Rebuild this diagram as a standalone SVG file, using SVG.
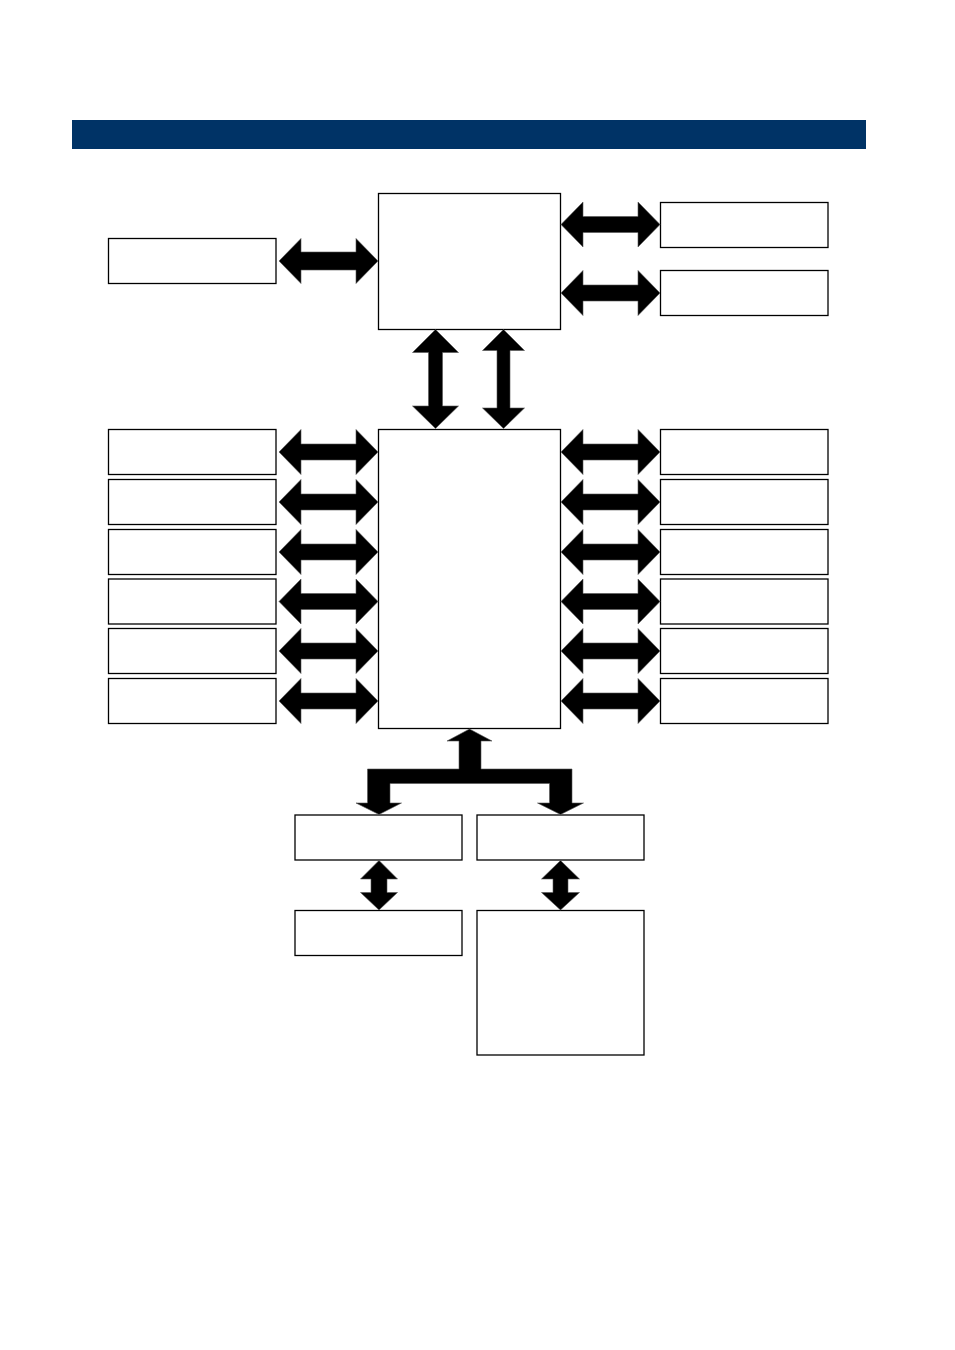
<svg xmlns="http://www.w3.org/2000/svg" xmlns:xlink="http://www.w3.org/1999/xlink" width="955" height="1350" viewBox="0 0 955 1350">
<style>
.box{fill:#fff;stroke:#000;stroke-width:1.3}
.arr{fill:#000;stroke:#555;stroke-width:0.6;stroke-linejoin:miter}
</style>
<defs>
<path id="harrow" d="M0,0 L22,-22.5 L22,-8 L77,-8 L77,-22.5 L99,0 L77,22.5 L77,8 L22,8 L22,22.5 Z"/>
</defs>
<rect width="955" height="1350" fill="#fff"/>
<rect id="banner" x="72" y="120" width="794" height="29" fill="#003366"/>
<g id="top-box"><rect class="box" x="378.5" y="193.5" width="182" height="136"/></g>
<g id="top-left-box"><rect class="box" x="108.5" y="238.5" width="167.5" height="45"/></g>
<g id="top-right-box-1"><rect class="box" x="660.5" y="202.5" width="167.5" height="45"/></g>
<g id="top-right-box-2"><rect class="box" x="660.5" y="270.5" width="167.5" height="45"/></g>
<g id="center-box"><rect class="box" x="378.5" y="429.5" width="182" height="299"/></g>
<g id="left-box-1"><rect class="box" x="108.5" y="429.5" width="167.5" height="45"/></g>
<g id="left-box-2"><rect class="box" x="108.5" y="479.5" width="167.5" height="45"/></g>
<g id="left-box-3"><rect class="box" x="108.5" y="529.5" width="167.5" height="45"/></g>
<g id="left-box-4"><rect class="box" x="108.5" y="579" width="167.5" height="45"/></g>
<g id="left-box-5"><rect class="box" x="108.5" y="628.5" width="167.5" height="45"/></g>
<g id="left-box-6"><rect class="box" x="108.5" y="678.5" width="167.5" height="45"/></g>
<g id="right-box-1"><rect class="box" x="660.5" y="429.5" width="167.5" height="45"/></g>
<g id="right-box-2"><rect class="box" x="660.5" y="479.5" width="167.5" height="45"/></g>
<g id="right-box-3"><rect class="box" x="660.5" y="529.5" width="167.5" height="45"/></g>
<g id="right-box-4"><rect class="box" x="660.5" y="579" width="167.5" height="45"/></g>
<g id="right-box-5"><rect class="box" x="660.5" y="628.5" width="167.5" height="45"/></g>
<g id="right-box-6"><rect class="box" x="660.5" y="678.5" width="167.5" height="45"/></g>
<g id="bottom-box-left"><rect class="box" x="295" y="815" width="167" height="45"/></g>
<g id="bottom-box-right"><rect class="box" x="477" y="815" width="167" height="45"/></g>
<g id="lower-box-left"><rect class="box" x="295" y="910.5" width="167" height="45"/></g>
<g id="lower-box-right"><rect class="box" x="477" y="910.5" width="167" height="144.5"/></g>
<g id="connectors">
<path class="arr" d="M279,261 L301,238.5 L301,252 L356,252 L356,238.5 L378,261 L356,283.5 L356,270 L301,270 L301,283.5 Z"/>
<use class="arr" xlink:href="#harrow" x="561" y="224.5"/>
<use class="arr" xlink:href="#harrow" x="561" y="293"/>
<path class="arr" d="M435.5,329.5 L458.5,352.5 L442.5,352.5 L442.5,406 L458.5,406 L435.5,428.5 L412.5,406 L428.5,406 L428.5,352.5 L412.5,352.5 Z"/>
<path class="arr" d="M503.5,329.5 L524.5,350.5 L510,350.5 L510,408 L524.5,408 L503.5,428.5 L482.5,408 L497,408 L497,350.5 L482.5,350.5 Z"/>
<use class="arr" xlink:href="#harrow" x="279" y="452"/>
<use class="arr" xlink:href="#harrow" x="279" y="502"/>
<use class="arr" xlink:href="#harrow" x="279" y="552"/>
<use class="arr" xlink:href="#harrow" x="279" y="601.5"/>
<use class="arr" xlink:href="#harrow" x="279" y="651"/>
<use class="arr" xlink:href="#harrow" x="279" y="701"/>
<use class="arr" xlink:href="#harrow" x="561" y="452"/>
<use class="arr" xlink:href="#harrow" x="561" y="502"/>
<use class="arr" xlink:href="#harrow" x="561" y="552"/>
<use class="arr" xlink:href="#harrow" x="561" y="601.5"/>
<use class="arr" xlink:href="#harrow" x="561" y="651"/>
<use class="arr" xlink:href="#harrow" x="561" y="701"/>
<path class="arr" d="M469.5,729 L492,741 L481,741 L481,769 L572,769 L572,803 L583.5,803 L560.5,814.5 L537.5,803 L549.5,803 L549.5,783.5 L390,783.5 L390,803 L401.5,803 L379,814.5 L356,803 L367.5,803 L367.5,769 L459,769 L459,741 L447,741 Z"/>
<path class="arr" d="M379,860.5 L397.5,879 L387,879 L387,892.5 L397.5,892.5 L379,910 L360.5,892.5 L371,892.5 L371,879 L360.5,879 Z"/>
<path class="arr" d="M560.5,860.5 L579.5,879 L568,879 L568,892.5 L579.5,892.5 L560.5,910 L541.5,892.5 L553,892.5 L553,879 L541.5,879 Z"/>
</g>
</svg>
